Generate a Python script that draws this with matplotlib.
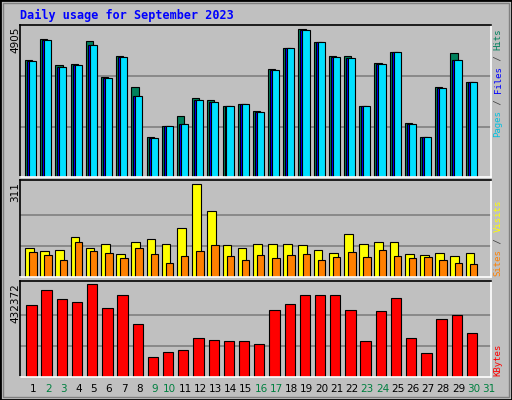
import matplotlib
matplotlib.use("Agg")
import matplotlib.pyplot as plt
import numpy as np
from matplotlib.patches import Rectangle

days = list(range(1, 32))
hits = [3787, 4471, 3624, 3657, 4406, 3234, 3917, 2908, 1313, 1671, 1997, 2550, 2496, 2322, 2387, 2159, 3494, 4178, 4796, 4373, 3917, 3917, 2322, 3689, 4047, 1769, 1291, 2908, 4015, 3071]
files = [3754, 4438, 3559, 3624, 4275, 3201, 3884, 2647, 1280, 1671, 1736, 2517, 2452, 2322, 2387, 2127, 3461, 4178, 4763, 4373, 3884, 3852, 2322, 3657, 4047, 1736, 1291, 2875, 3787, 3071]
pages = files
visits = [98, 88, 92, 135, 98, 112, 78, 119, 129, 112, 166, 311, 223, 109, 98, 112, 112, 112, 106, 92, 82, 146, 112, 116, 116, 78, 75, 82, 72, 82]
sites = [85, 75, 58, 119, 88, 82, 65, 96, 78, 48, 72, 88, 106, 72, 58, 75, 65, 75, 78, 58, 68, 85, 68, 92, 72, 65, 68, 58, 48, 45]
kbytes = [337000, 408000, 365000, 350000, 432372, 322000, 385000, 246000, 95000, 118000, 128000, 180000, 175000, 166000, 170000, 156000, 314000, 343000, 385000, 385000, 385000, 314000, 166000, 309000, 370000, 180000, 110000, 271000, 290000, 205000]
weekend = [2, 3, 9, 10, 16, 17, 23, 24, 30, 31]

BG = "#c0c0c0"
fig = plt.figure(figsize=(5.12, 4.0), dpi=100, facecolor=BG)
W, H = 512, 400
fig.patches.append(Rectangle((0, 0), 1, 1, transform=fig.transFigure, fill=False, ec="black", lw=2))
fig.patches.append(Rectangle((3/W, 3/H), 1-6/W, 1-6/H, transform=fig.transFigure, fill=False, ec="#808080", lw=1))

def mkax(y0, y1):
    ax = fig.add_axes([20/W, 1-y1/H, 471/W, (y1-y0)/H])
    ax.set_facecolor(BG)
    ax.set_xlim(0, 31)
    ax.set_xticks([]); ax.set_yticks([])
    ax.spines['top'].set_color('black'); ax.spines['left'].set_color('black')
    ax.spines['bottom'].set_color('white'); ax.spines['right'].set_color('white')
    for s in ax.spines.values():
        s.set_linewidth(1.2)
    return ax

x = np.arange(len(hits))
mono = "DejaVu Sans Mono"

ax1 = mkax(25, 177)
ax1.set_ylim(0, 4905 * 455 / 452)
for g in (4905/3, 4905*2/3):
    ax1.axhline(g, color="#808080", lw=1.2, zorder=0)
ax1.bar(x + 0.33, hits, width=0.47, align='edge', color="#00805c", ec="black", lw=0.8)
ax1.bar(x + 0.46, files, width=0.47, align='edge', color="#0000ff", ec="black", lw=0.8)
ax1.bar(x + 0.59, pages, width=0.47, align='edge', color="#00e0ff", ec="black", lw=0.8)

ax2 = mkax(180, 277)
ax2.set_ylim(0, 311 * 290 / 277)
for g in (311/3, 311*2/3):
    ax2.axhline(g, color="#808080", lw=1.2, zorder=0)
ax2.bar(x + 0.33, visits, width=0.57, align='edge', color="#ffff00", ec="black", lw=0.8)
ax2.bar(x + 0.6, sites, width=0.49, align='edge', color="#ff8000", ec="black", lw=0.8)

ax3 = mkax(281, 377)
ax3.set_ylim(0, 432372 * 284 / 274)
for g in (432372/3, 432372*2/3):
    ax3.axhline(g, color="#808080", lw=1.2, zorder=0)
ax3.bar(x + 0.41, kbytes, width=0.68, align='edge', color="#ff0000", ec="black", lw=0.8)

fig.text(20/W, 1-15/H, "Daily usage for September 2023", color="#0000ff", fontsize=8.5,
         family=mono, fontweight="bold", va="center", ha="left")

for y, lab in ((27, "4905"), (182, "311"), (283, "432372")):
    fig.text(15/W, 1-y/H, lab, rotation=90, fontsize=7.5, va="top", ha="center", color="black")

def rlabel(ystart, parts):
    y = ystart
    for txt, col in parts:
        fig.text(498/W, 1-y/H, txt, rotation=90, fontsize=6.5, family=mono, color=col, va="bottom", ha="center")
        y -= len(txt) * 5.45
rlabel(137, [("Pages", "#00c0e0"), (" / ", "#404040"), ("Files", "#0000ff"), (" / ", "#404040"), ("Hits", "#00805c")])
rlabel(276, [("Sites", "#ff8000"), (" / ", "#404040"), ("Visits", "#ffff00")])
rlabel(376, [("KBytes", "#ff0000")])

for d in days:
    col = "#008040" if d in weekend else "black"
    fig.text((20 + (d - 1 + 0.86) * 471/31)/W, 1-389/H, str(d), fontsize=7.5, color=col, ha="center", va="center")

fig.savefig("out.png", dpi=100, facecolor=BG)
